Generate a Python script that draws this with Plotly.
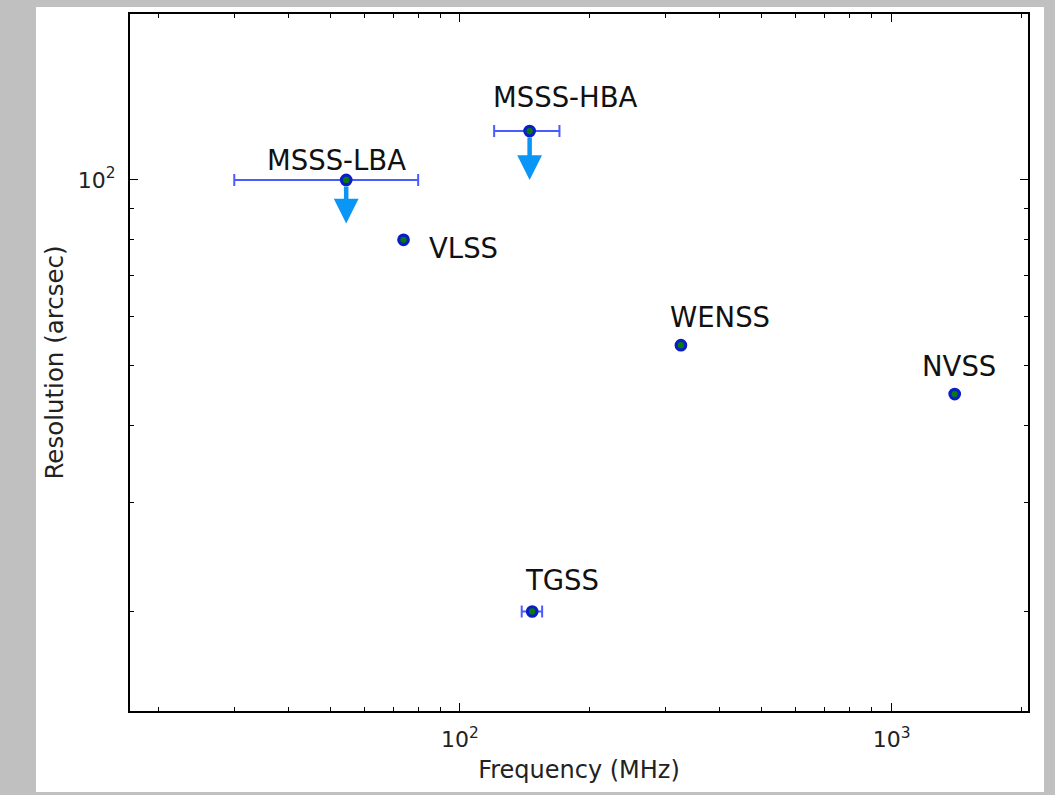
import numpy as np
import plotly.graph_objects as go

# ---------------- data ----------------
surveys = ["MSSS-LBA", "MSSS-HBA", "VLSS", "WENSS", "NVSS", "TGSS"]
frequency = [54.5, 145, 74, 325, 1400, 147]          # MHz
resolution = [100, 120, 80, 54, 45, 20]               # arcsec
freq_err_minus = [24.5, 25, 0, 0, 0, 8]
freq_err_plus = [25.5, 25, 0, 0, 0, 8]
upper_limit = [True, True, False, False, False, False]
limit_arrow_end = [85, 100, None, None, None, None]   # arcsec

x_major = [100, 1000]
x_major_text = ["10<sup>2</sup>", "10<sup>3</sup>"]
x_minor = [20, 30, 40, 50, 60, 70, 80, 90, 200, 300, 400, 500, 600, 700, 800, 900, 2000]
y_major = [100]
y_major_text = ["10<sup>2</sup>"]
y_minor = [20, 30, 40, 50, 60, 70, 80, 90]

x_range = [17.2, 2070]
y_range = [13.8, 185.7]

# ---------------- styles ----------------
FONT = "DejaVu Sans"
label_style = {  # pixel offsets of text labels relative to their points
    "MSSS-LBA": dict(xshift=-10, yshift=20, xanchor="center"),
    "MSSS-HBA": dict(xshift=36, yshift=34, xanchor="center"),
    "VLSS": dict(xshift=23, yshift=-8, xanchor="left"),
    "WENSS": dict(xshift=39, yshift=28, xanchor="center"),
    "NVSS": dict(xshift=4, yshift=28, xanchor="center"),
    "TGSS": dict(xshift=30, yshift=32, xanchor="center"),
}

fig = go.Figure()

# error bars (only for points having a frequency range)
idx = [i for i in range(len(surveys)) if freq_err_plus[i] > 0]
fig.add_trace(go.Scatter(
    x=[frequency[i] for i in idx],
    y=[resolution[i] for i in idx],
    mode="markers",
    marker=dict(size=1, opacity=0),
    error_x=dict(type="data", symmetric=False,
                 array=[freq_err_plus[i] for i in idx],
                 arrayminus=[freq_err_minus[i] for i in idx],
                 color="#4a5cff", thickness=2, width=6),
    hoverinfo="skip", showlegend=False,
))

# points
fig.add_trace(go.Scatter(
    x=frequency, y=resolution, mode="markers",
    marker=dict(size=9.5, color="#0a7a0a", line=dict(color="#0a1ec8", width=3.2)),
    text=surveys, showlegend=False,
))

annotations = []
for i, name in enumerate(surveys):
    st = label_style[name]
    annotations.append(dict(
        x=np.log10(frequency[i]), y=np.log10(resolution[i]), xref="x", yref="y",
        text=name, showarrow=False, xanchor=st["xanchor"], yanchor="middle",
        xshift=st["xshift"], yshift=st["yshift"],
        font=dict(family=FONT, size=27.5, color="#111111"),
    ))
    if upper_limit[i]:
        annotations.append(dict(
            x=np.log10(frequency[i]), y=np.log10(limit_arrow_end[i]),
            ax=np.log10(frequency[i]), ay=np.log10(resolution[i]),
            xref="x", yref="y", axref="x", ayref="y",
            text="", showarrow=True, arrowhead=2, arrowsize=1.1, arrowwidth=4.5,
            arrowcolor="#0a96f7", startstandoff=5, standoff=0,
        ))

axis_common = dict(
    type="log", showgrid=False, zeroline=False,
    showline=True, linecolor="black", linewidth=2, mirror="allticks",
    ticks="inside", ticklen=8, tickwidth=1, tickcolor="black",
    tickmode="array",
    tickfont=dict(family=FONT, size=22, color="#222222"),
    ticklabelstandoff=8,
)

fig.update_xaxes(
    **axis_common,
    range=[np.log10(x_range[0]), np.log10(x_range[1])],
    tickvals=x_major, ticktext=x_major_text,
    minor=dict(tickmode="array", tickvals=x_minor, ticks="inside", ticklen=4,
               tickwidth=1, tickcolor="black", showgrid=False),
    title=dict(text="Frequency (MHz)", font=dict(family=FONT, size=24, color="#222222"),
               standoff=10),
)
fig.update_yaxes(
    **axis_common,
    range=[np.log10(y_range[0]), np.log10(y_range[1])],
    tickvals=y_major, ticktext=y_major_text,
    minor=dict(tickmode="array", tickvals=y_minor, ticks="inside", ticklen=4,
               tickwidth=1, tickcolor="black", showgrid=False),
    title=dict(text="Resolution (arcsec)", font=dict(family=FONT, size=24.5, color="#222222"),
               standoff=7),
)

L, R, T, B = 130, 27, 14, 84
W, H = 1055, 795
pw, ph = W - L - R, H - T - B
fig.update_layout(
    width=W, height=H,
    margin=dict(l=L, r=R, t=T, b=B, pad=0),
    paper_bgcolor="#c0c0c0",
    plot_bgcolor="white",
    annotations=annotations,
    shapes=[dict(type="rect", xref="paper", yref="paper", layer="below",
                 x0=(36 - L) / pw, x1=(1044 - L) / pw,
                 y0=(H - B - 792) / ph, y1=(H - B - 7) / ph,
                 fillcolor="white", line=dict(width=0))],
    font=dict(family=FONT),
)

fig.write_html("out.html", config={"displayModeBar": False},
               post_script="document.body.style.margin='0';document.body.style.overflow='hidden';")
